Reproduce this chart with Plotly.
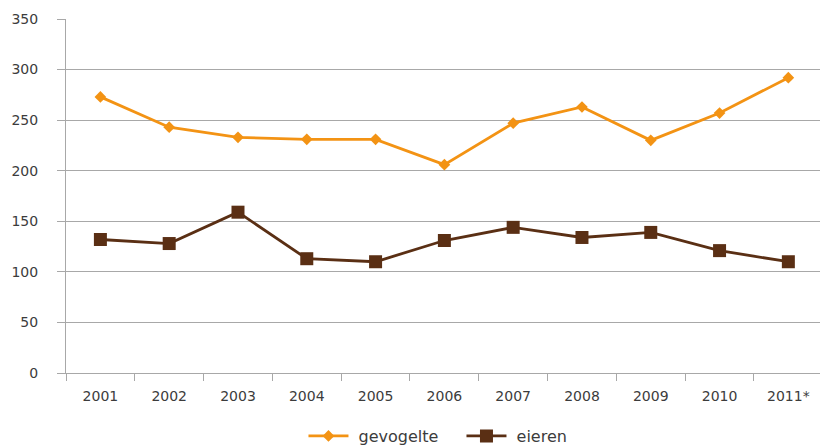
import plotly.graph_objects as go

years = ["2001", "2002", "2003", "2004", "2005", "2006", "2007", "2008", "2009", "2010", "2011*"]
gevogelte = [273, 243, 233, 231, 231, 206, 247, 263, 230, 257, 292]
eieren = [132, 128, 159, 113, 110, 131, 144, 134, 139, 121, 110]
y_ticks = [0, 50, 100, 150, 200, 250, 300, 350]
series_names = ["\u00a0gevogelte", "\u00a0eieren"]

ORANGE = "#F39314"
BROWN = "#5A2F14"
GRID = "#A8A8A8"
TEXT = "#3C3C3C"

fig = go.Figure()
fig.add_trace(go.Scatter(
    x=years, y=gevogelte, name=series_names[0], mode="lines+markers",
    line=dict(color=ORANGE, width=2.8),
    marker=dict(symbol="diamond", size=9, color=ORANGE),
))
fig.add_trace(go.Scatter(
    x=years, y=eieren, name=series_names[1], mode="lines+markers",
    line=dict(color=BROWN, width=2.8),
    marker=dict(symbol="square", size=13, color=BROWN),
))

fig.update_layout(
    width=820, height=446,
    margin=dict(l=66, r=0, t=19, b=73, autoexpand=False),
    paper_bgcolor="white", plot_bgcolor="white",
    font=dict(family="DejaVu Sans", size=14, color=TEXT),
    showlegend=True,
    legend=dict(
        orientation="h", x=0.5245, xanchor="center", xref="paper",
        y=-0.13, yanchor="top", font=dict(size=16, color=TEXT),
        itemwidth=40, entrywidth=103, traceorder="normal",
    ),
    xaxis=dict(
        type="category", range=[-0.5, 10.46], automargin=False,
        showgrid=False, showline=True, linecolor=GRID, linewidth=1,
        ticks="outside", tickson="boundaries", ticklen=7, tickcolor=GRID,
        ticklabelstandoff=10,
        tickfont=dict(size=14, color=TEXT),
        zeroline=False,
    ),
    yaxis=dict(
        range=[0, 350], tickvals=y_ticks, automargin=False,
        showgrid=True, gridcolor=GRID, gridwidth=1,
        showline=True, linecolor=GRID, linewidth=1,
        ticks="outside", ticklen=8, tickcolor=GRID,
        ticklabelstandoff=16,
        tickfont=dict(size=14, color=TEXT),
        zeroline=False,
    ),
)

fig.write_html(
    "out.html",
    config={"displayModeBar": False},
    post_script="document.body.style.margin='0';document.body.style.padding='0';document.body.style.overflow='hidden';",
)
